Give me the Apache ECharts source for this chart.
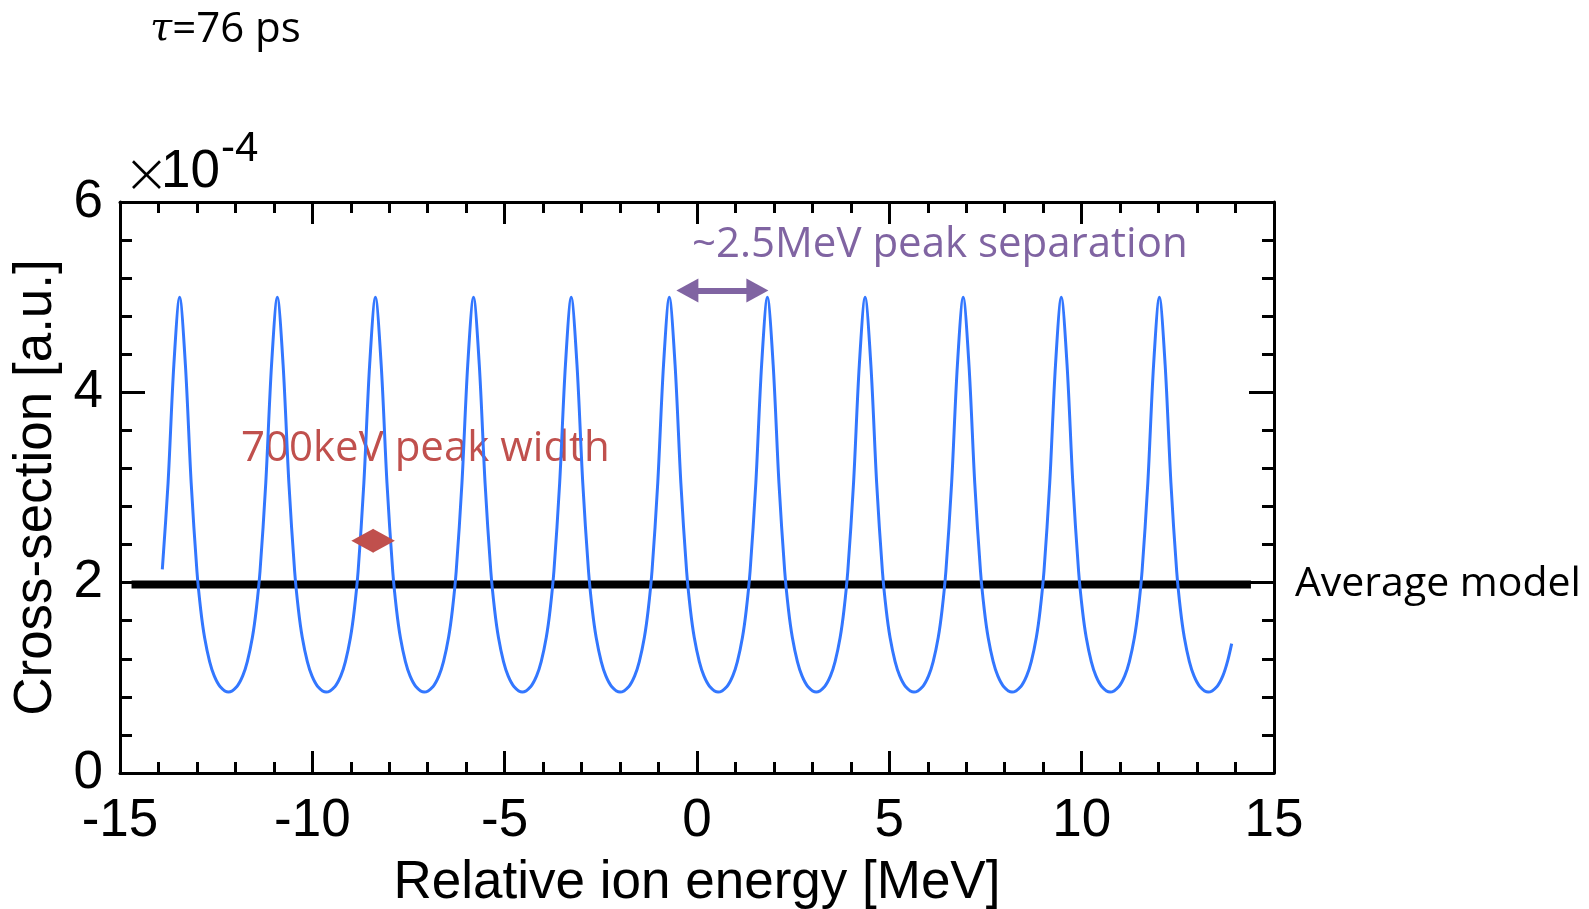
<!DOCTYPE html>
<html>
<head>
<meta charset="utf-8">
<script src="https://cdn.jsdelivr.net/npm/echarts@6/dist/echarts.min.js"></script>
<style>
html,body{margin:0;padding:0;background:#fff;overflow:hidden;}
#chart{width:1589px;height:909px;}
</style>
</head>
<body>
<div id="chart"></div>
<script>
// Relative ion energy [MeV]
const energy = [
  -13.90, -13.75, -13.60, -13.45, -13.30, -13.15, -13.00, -12.90, -12.80, -12.67, -12.55, -12.40, -12.18,
  -11.96, -11.81, -11.69, -11.56, -11.46, -11.36, -11.21, -11.06, -10.91, -10.76, -10.61, -10.46, -10.36, -10.26, -10.13, -10.01, -9.86, -9.64,
  -9.41, -9.26, -9.14, -9.01, -8.91, -8.81, -8.66, -8.51, -8.36, -8.21, -8.06, -7.91, -7.81, -7.71, -7.58, -7.46, -7.31, -7.09,
  -6.86, -6.71, -6.59, -6.46, -6.36, -6.26, -6.11, -5.96, -5.81, -5.66, -5.51, -5.36, -5.26, -5.16, -5.03, -4.91, -4.76, -4.54,
  -4.32, -4.17, -4.05, -3.92, -3.82, -3.72, -3.57, -3.42, -3.27, -3.12, -2.97, -2.82, -2.72, -2.62, -2.49, -2.37, -2.22, -2.00,
  -1.77, -1.62, -1.50, -1.37, -1.27, -1.17, -1.02, -0.87, -0.72, -0.57, -0.42, -0.27, -0.17, -0.07, 0.06, 0.18, 0.33, 0.55,
  0.78, 0.93, 1.05, 1.18, 1.28, 1.38, 1.53, 1.68, 1.83, 1.98, 2.13, 2.28, 2.38, 2.48, 2.61, 2.73, 2.88, 3.10,
  3.32, 3.47, 3.59, 3.72, 3.82, 3.92, 4.07, 4.22, 4.37, 4.52, 4.67, 4.82, 4.92, 5.02, 5.15, 5.27, 5.42, 5.64,
  5.87, 6.02, 6.14, 6.27, 6.37, 6.47, 6.62, 6.77, 6.92, 7.07, 7.22, 7.37, 7.47, 7.57, 7.70, 7.82, 7.97, 8.19,
  8.42, 8.57, 8.69, 8.82, 8.92, 9.02, 9.17, 9.32, 9.47, 9.62, 9.77, 9.92, 10.02, 10.12, 10.25, 10.37, 10.52, 10.74,
  10.97, 11.12, 11.24, 11.37, 11.47, 11.57, 11.72, 11.87, 12.02, 12.17, 12.32, 12.47, 12.57, 12.67, 12.80, 12.92, 13.07, 13.29,
  13.52, 13.67, 13.79, 13.90
];
// Cross-section [a.u.] in units of 1e-4
const crossSection = [
  2.14, 3.05, 4.29, 5.00, 4.29, 3.05, 2.12, 1.71, 1.42, 1.17, 1.02, 0.91, 0.85,
  0.91, 1.02, 1.17, 1.42, 1.71, 2.12, 3.05, 4.29, 5.00, 4.29, 3.05, 2.12, 1.71, 1.42, 1.17, 1.02, 0.91, 0.85,
  0.91, 1.02, 1.17, 1.42, 1.71, 2.12, 3.05, 4.29, 5.00, 4.29, 3.05, 2.12, 1.71, 1.42, 1.17, 1.02, 0.91, 0.85,
  0.91, 1.02, 1.17, 1.42, 1.71, 2.12, 3.05, 4.29, 5.00, 4.29, 3.05, 2.12, 1.71, 1.42, 1.17, 1.02, 0.91, 0.85,
  0.91, 1.02, 1.17, 1.42, 1.71, 2.12, 3.05, 4.29, 5.00, 4.29, 3.05, 2.12, 1.71, 1.42, 1.17, 1.02, 0.91, 0.85,
  0.91, 1.02, 1.17, 1.42, 1.71, 2.12, 3.05, 4.29, 5.00, 4.29, 3.05, 2.12, 1.71, 1.42, 1.17, 1.02, 0.91, 0.85,
  0.91, 1.02, 1.17, 1.42, 1.71, 2.12, 3.05, 4.29, 5.00, 4.29, 3.05, 2.12, 1.71, 1.42, 1.17, 1.02, 0.91, 0.85,
  0.91, 1.02, 1.17, 1.42, 1.71, 2.12, 3.05, 4.29, 5.00, 4.29, 3.05, 2.12, 1.71, 1.42, 1.17, 1.02, 0.91, 0.85,
  0.91, 1.02, 1.17, 1.42, 1.71, 2.12, 3.05, 4.29, 5.00, 4.29, 3.05, 2.12, 1.71, 1.42, 1.17, 1.02, 0.91, 0.85,
  0.91, 1.02, 1.17, 1.42, 1.71, 2.12, 3.05, 4.29, 5.00, 4.29, 3.05, 2.12, 1.71, 1.42, 1.17, 1.02, 0.91, 0.85,
  0.91, 1.02, 1.17, 1.42, 1.71, 2.12, 3.05, 4.29, 5.00, 4.29, 3.05, 2.12, 1.71, 1.42, 1.17, 1.02, 0.91, 0.85,
  0.91, 1.02, 1.17, 1.36
];
// Average model line
const averageEnergy = [-14.7, 14.4];
const averageValue = [1.98, 1.98];
// Annotation anchors (data coordinates)
const separationArrow = [[-0.25, 5.07], [1.57, 5.07]];
const widthArrow = [[-8.70, 2.44], [-8.14, 2.44]];
// Axis ranges / ticks
const xRange = [-15, 15], xStep = 5;
const yRange = [0, 6], yStep = 2;

const curve = energy.map((e, i) => [e, crossSection[i]]);
const avg = averageEnergy.map((e, i) => [e, averageValue[i]]);

const axisFont = '"Liberation Sans", Arial, sans-serif';
const annFont = '"Open Sans", Lato, sans-serif';
const black = '#000';

function xAx(pos, showLabel) {
  return {
    type: 'value', position: pos, min: xRange[0], max: xRange[1], interval: xStep,
    axisLine: {show: true, onZero: false, lineStyle: {color: black, width: 3}},
    axisTick: {show: true, inside: true, length: 22, lineStyle: {color: black, width: 3}},
    minorTick: {show: true, splitNumber: 5, length: 11, lineStyle: {color: black, width: 3}},
    splitLine: {show: false},
    axisLabel: {show: showLabel, fontSize: 53, color: black, fontFamily: axisFont, margin: 22},
    name: showLabel ? 'Relative ion energy [MeV]' : '',
    nameLocation: 'middle', nameGap: 84,
    nameTextStyle: {fontSize: 53, color: black, fontFamily: axisFont}
  };
}
function yAx(pos, showLabel) {
  return {
    type: 'value', position: pos, min: yRange[0], max: yRange[1], interval: yStep,
    axisLine: {show: true, onZero: false, lineStyle: {color: black, width: 3}},
    axisTick: {show: true, inside: true, length: 25, lineStyle: {color: black, width: 3}},
    minorTick: {show: true, splitNumber: 5, length: 12, lineStyle: {color: black, width: 3}},
    splitLine: {show: false},
    axisLabel: {show: showLabel, fontSize: 53, color: black, fontFamily: axisFont, margin: 17},
    name: showLabel ? 'Cross-section [a.u.]' : '',
    nameLocation: 'middle', nameGap: 52, nameRotate: 90,
    nameTextStyle: {fontSize: 53, color: black, fontFamily: axisFont}
  };
}

const chart = echarts.init(document.getElementById('chart'), null, {renderer: 'canvas'});
chart.setOption({
  backgroundColor: '#fff',
  animation: false,
  grid: {left: 120, right: 315, top: 202, bottom: 136, containLabel: false, outerBoundsMode: 'none'},
  xAxis: [xAx('bottom', true), xAx('top', false)],
  yAxis: [yAx('left', true), yAx('right', false)],
  series: [
    {
      type: 'line', data: curve, smooth: 0.3, showSymbol: false, symbol: 'none',
      lineStyle: {color: '#3377ff', width: 3},
      z: 3,
      markLine: {
        silent: true, symbol: ['triangle', 'triangle'], symbolSize: [24, 22],
        label: {show: false},
        lineStyle: {type: 'solid', width: 6, color: '#8064a2'},
        data: [[{coord: separationArrow[0], lineStyle: {color: '#8064a2', width: 6}, itemStyle: {color: '#8064a2'}},
                {coord: separationArrow[1]}],
               [{coord: widthArrow[0], lineStyle: {color: '#c0504d', width: 4}, itemStyle: {color: '#c0504d'}},
                {coord: widthArrow[1]}]]
      }
    },
    {
      type: 'line', data: avg, showSymbol: false, symbol: 'none',
      lineStyle: {color: black, width: 8}, z: 2,
      endLabel: {show: true, formatter: 'Average model', fontSize: 41, color: black,
                 fontFamily: annFont, distance: 44}
    }
  ],
  graphic: [
    {type: 'text', x: 150, y: 30, style: {text: '{t|τ}=76 ps', fontSize: 42, fontFamily: annFont, fill: black, verticalAlign: 'middle',
      rich: {t: {fontStyle: 'italic', fontFamily: 'DejaVu Serif', fontSize: 40}}}},
    {type: 'text', x: 123, y: 177, style: {text: '×', fontSize: 56, fontFamily: '"DejaVu Sans"', fontWeight: 200, fill: black, verticalAlign: 'middle'}},
    {type: 'text', x: 161, y: 172, style: {text: '10', fontSize: 53, fontFamily: axisFont, fill: black, verticalAlign: 'middle'}},
    {type: 'text', x: 221, y: 149, style: {text: '-4', fontSize: 42, fontFamily: axisFont, fill: black, verticalAlign: 'middle'}},
    {type: 'text', x: 692, y: 245, style: {text: '~2.5MeV peak separation', fontSize: 42, fontFamily: annFont, fill: '#8064a2', verticalAlign: 'middle'}},
    {type: 'text', x: 241, y: 449, style: {text: '700keV peak width', fontSize: 42, fontFamily: annFont, fill: '#c0504d', verticalAlign: 'middle'}}
  ]
});
</script>
</body>
</html>
